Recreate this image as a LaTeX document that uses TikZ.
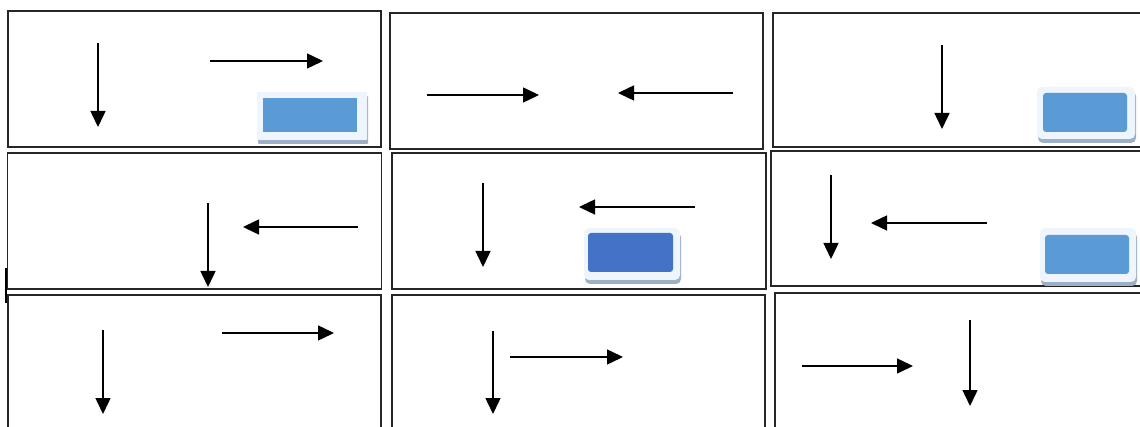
\documentclass[tikz,border=0pt]{standalone}
\usetikzlibrary{arrows.meta,shadows}
\definecolor{bluea}{HTML}{5B9BD5}
\definecolor{blueb}{HTML}{4472C4}
\definecolor{haloc}{HTML}{EEF5FC}
\definecolor{shadowc}{HTML}{9DB0C6}
\begin{document}
\begin{tikzpicture}[x=1pt,y=-1pt,
  panel/.style={draw=black!85, line width=1.8pt, inner sep=0pt, outer sep=0pt, fill=white},
  arr/.style={line width=1.5pt, -{Triangle[length=16pt,width=15pt]}},
  halo/.style={fill=haloc, rounded corners=5pt, inner sep=0pt, minimum width=#1, drop shadow={shadow xshift=1pt, shadow yshift=-4pt, fill=shadowc, opacity=1}},
  blk/.style={fill=#1, rounded corners=3pt, inner sep=0pt}
]
\useasboundingbox (0,0) rectangle (1140,427);
\fill[white] (0,0) rectangle (1140,427);
\clip (0,0) rectangle (1140,427);

% panels
\node[panel, minimum width=373pt, minimum height=136pt] (p1) at (194.5,79) {};
\node[panel, minimum width=373pt, minimum height=136pt] (p2) at (576.5,81) {};
\node[panel, minimum width=380pt, minimum height=134pt] (p3) at (963,80) {};
\node[panel, minimum width=374pt, minimum height=136pt] (p4) at (194.5,221) {};
\node[panel, minimum width=374pt, minimum height=136pt] (p5) at (579,221) {};
\node[panel, minimum width=382pt, minimum height=135pt] (p6) at (962,218.5) {};
\node[panel, minimum width=373pt, minimum height=150pt] (p7) at (194.5,370) {};
\node[panel, minimum width=373pt, minimum height=150pt] (p8) at (578.5,370) {};
\node[panel, minimum width=378pt, minimum height=150pt] (p9) at (964,368) {};

% small mark at left
\coordinate (m1) at (6,268);
\coordinate (m2) at (6,303);
\draw[line width=2.2pt] (m1) -- (m2);

% blue boxes
\node[halo=110pt, minimum height=48pt, rounded corners=1pt] (h1) at (312,116) {};
\node[blk=bluea, minimum width=94pt, minimum height=34pt, rounded corners=0pt] (b1) at (310,115) {};
\node[halo=98pt, minimum height=52pt] (h3) at (1086,113) {};
\node[blk=bluea, minimum width=84pt, minimum height=39pt] (b3) at (1085,112.5) {};
\node[halo=96pt, minimum height=52pt] (h5) at (632,254) {};
\node[blk=blueb, minimum width=85pt, minimum height=39pt] (b5) at (630.5,252.5) {};
\node[halo=96pt, minimum height=54pt] (h6) at (1088,255) {};
\node[blk=bluea, minimum width=84pt, minimum height=39pt] (b6) at (1087,254.5) {};

% arrows panel 1
\coordinate (a1s) at (98,43);  \coordinate (a1e) at (98,127);
\coordinate (a2s) at (210,61); \coordinate (a2e) at (323,61);
\draw[arr] (a1s) -- (a1e);
\draw[arr] (a2s) -- (a2e);
% panel 2
\coordinate (a3s) at (427,95); \coordinate (a3e) at (539,95);
\coordinate (a4s) at (733,93); \coordinate (a4e) at (618,93);
\draw[arr] (a3s) -- (a3e);
\draw[arr] (a4s) -- (a4e);
% panel 3
\coordinate (a5s) at (942,45); \coordinate (a5e) at (942,129);
\draw[arr] (a5s) -- (a5e);
% panel 4
\coordinate (a6s) at (208,203); \coordinate (a6e) at (208,287);
\coordinate (a7s) at (358,227); \coordinate (a7e) at (243,227);
\draw[arr] (a6s) -- (a6e);
\draw[arr] (a7s) -- (a7e);
% panel 5
\coordinate (a8s) at (483,183); \coordinate (a8e) at (483,267);
\coordinate (a9s) at (695,207); \coordinate (a9e) at (579,207);
\draw[arr] (a8s) -- (a8e);
\draw[arr] (a9s) -- (a9e);
% panel 6
\coordinate (a10s) at (831,175); \coordinate (a10e) at (831,259);
\coordinate (a11s) at (987,223); \coordinate (a11e) at (871,223);
\draw[arr] (a10s) -- (a10e);
\draw[arr] (a11s) -- (a11e);
% panel 7
\coordinate (a12s) at (103,330); \coordinate (a12e) at (103,414);
\coordinate (a13s) at (222,333); \coordinate (a13e) at (334,333);
\draw[arr] (a12s) -- (a12e);
\draw[arr] (a13s) -- (a13e);
% panel 8
\coordinate (a14s) at (493,331); \coordinate (a14e) at (493,414);
\coordinate (a15s) at (510,357); \coordinate (a15e) at (623,357);
\draw[arr] (a14s) -- (a14e);
\draw[arr] (a15s) -- (a15e);
% panel 9
\coordinate (a16s) at (802,366); \coordinate (a16e) at (913,366);
\coordinate (a17s) at (970,320); \coordinate (a17e) at (970,406);
\draw[arr] (a16s) -- (a16e);
\draw[arr] (a17s) -- (a17e);
\end{tikzpicture}
\end{document}
